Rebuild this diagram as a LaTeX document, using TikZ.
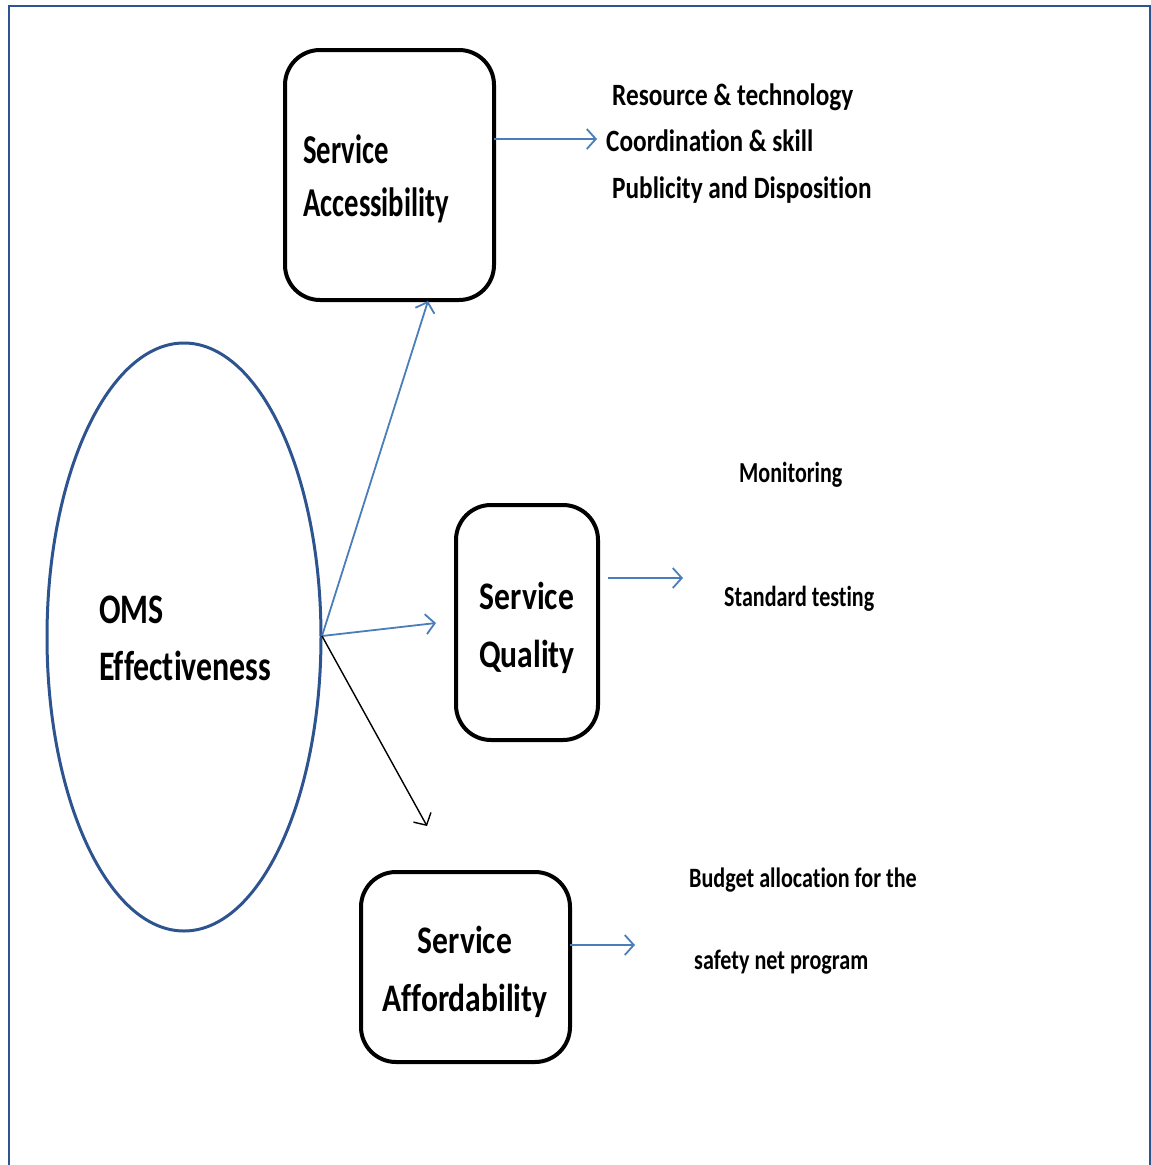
\documentclass[tikz,border=0pt]{standalone}
\usepackage{fontspec}
\setmainfont{Carlito}[RawFeature={-liga;-clig;-calt;-dlig}]
\usetikzlibrary{arrows.meta,shapes.geometric}
\definecolor{frameblue}{HTML}{2E5490}
\definecolor{arrowblue}{HTML}{4A7EBB}
\newcommand\myfont[2]{\bfseries\fontsize{#1}{#1}\selectfont\addfontfeatures{FakeStretch=#2}}
\begin{document}
\begin{tikzpicture}[x=1pt,y=-1pt,
  boxnode/.style={draw=black,line width=4pt,rounded corners=35pt,inner sep=0pt},
  lbl/.style={inner sep=0pt,anchor=base west},
  clbl/.style={inner sep=0pt,anchor=base},
  barrow/.style={draw=arrowblue,line width=1.8pt,-{Straight Barb[length=9pt,width=20pt,line width=1.8pt]}},
  karrow/.style={draw=black,line width=1.4pt,-{Straight Barb[length=9pt,width=20pt,line width=1.4pt]}}]
\useasboundingbox (0,0) rectangle (1151,1165);
% frame
\draw[frameblue,line width=2pt] (9,1166) -- (9,6) -- (1150,6) -- (1150,1166);
% ellipse
\node[ellipse,draw=frameblue,line width=3pt,minimum width=274pt,minimum height=588pt,inner sep=0pt] (oms) at (184,637) {};
\node[lbl] (omsA) at (99,623) {\myfont{42}{0.76}OMS};
\node[lbl] (omsB) at (99,680) {\myfont{42}{0.76}Effectiveness};
% boxes
\node[boxnode,minimum width=209pt,minimum height=250pt] (acc) at (389.5,175) {};
\node[boxnode,minimum width=142pt,minimum height=235pt] (qual) at (527,622.5) {};
\node[boxnode,minimum width=209pt,minimum height=190pt] (aff) at (465.5,967) {};
% box texts
\node[lbl] (accA) at (303,163) {\myfont{41}{0.70}Service};
\node[lbl] (accB) at (303,216) {\myfont{41}{0.70}Accessibility};
\node[clbl] (qualA) at (527,609) {\myfont{39}{0.81}Service};
\node[clbl] (qualB) at (527,667) {\myfont{39}{0.81}Quality};
\node[clbl] (affA) at (465,953) {\myfont{39}{0.81}Service};
\node[clbl] (affB) at (465,1011) {\myfont{39}{0.81}Affordability};
% right texts
\node[lbl] (r1) at (612,105) {\myfont{31}{0.815}Resource \& technology};
\node[lbl] (r2) at (606,151) {\myfont{31}{0.815}Coordination \& skill};
\node[lbl] (r3) at (612,198) {\myfont{31}{0.815}Publicity and Disposition};
\node[lbl] (m1) at (739,482) {\myfont{29}{0.76}Monitoring};
\node[lbl] (m2) at (724,606) {\myfont{29}{0.76}Standard testing};
\node[lbl] (b1) at (689,887) {\myfont{28}{0.79}Budget allocation for the};
\node[lbl] (b2) at (694,969) {\myfont{28}{0.79}safety net program};
% coordinates
\coordinate (src) at (322,636);
\coordinate (t1) at (428,301);
\coordinate (t2) at (436,623);
\coordinate (t3) at (427,826);
\coordinate (a1s) at (494,139);
\coordinate (a1e) at (597,139);
\coordinate (a2s) at (608,578);
\coordinate (a2e) at (683,578);
\coordinate (a3s) at (570,945);
\coordinate (a3e) at (635,945);
% arrows
\draw[barrow] (src) -- (t1);
\draw[barrow] (src) -- (t2);
\draw[karrow] (src) -- (t3);
\draw[barrow] (a1s) -- (a1e);
\draw[barrow] (a2s) -- (a2e);
\draw[barrow] (a3s) -- (a3e);
\end{tikzpicture}
\end{document}
